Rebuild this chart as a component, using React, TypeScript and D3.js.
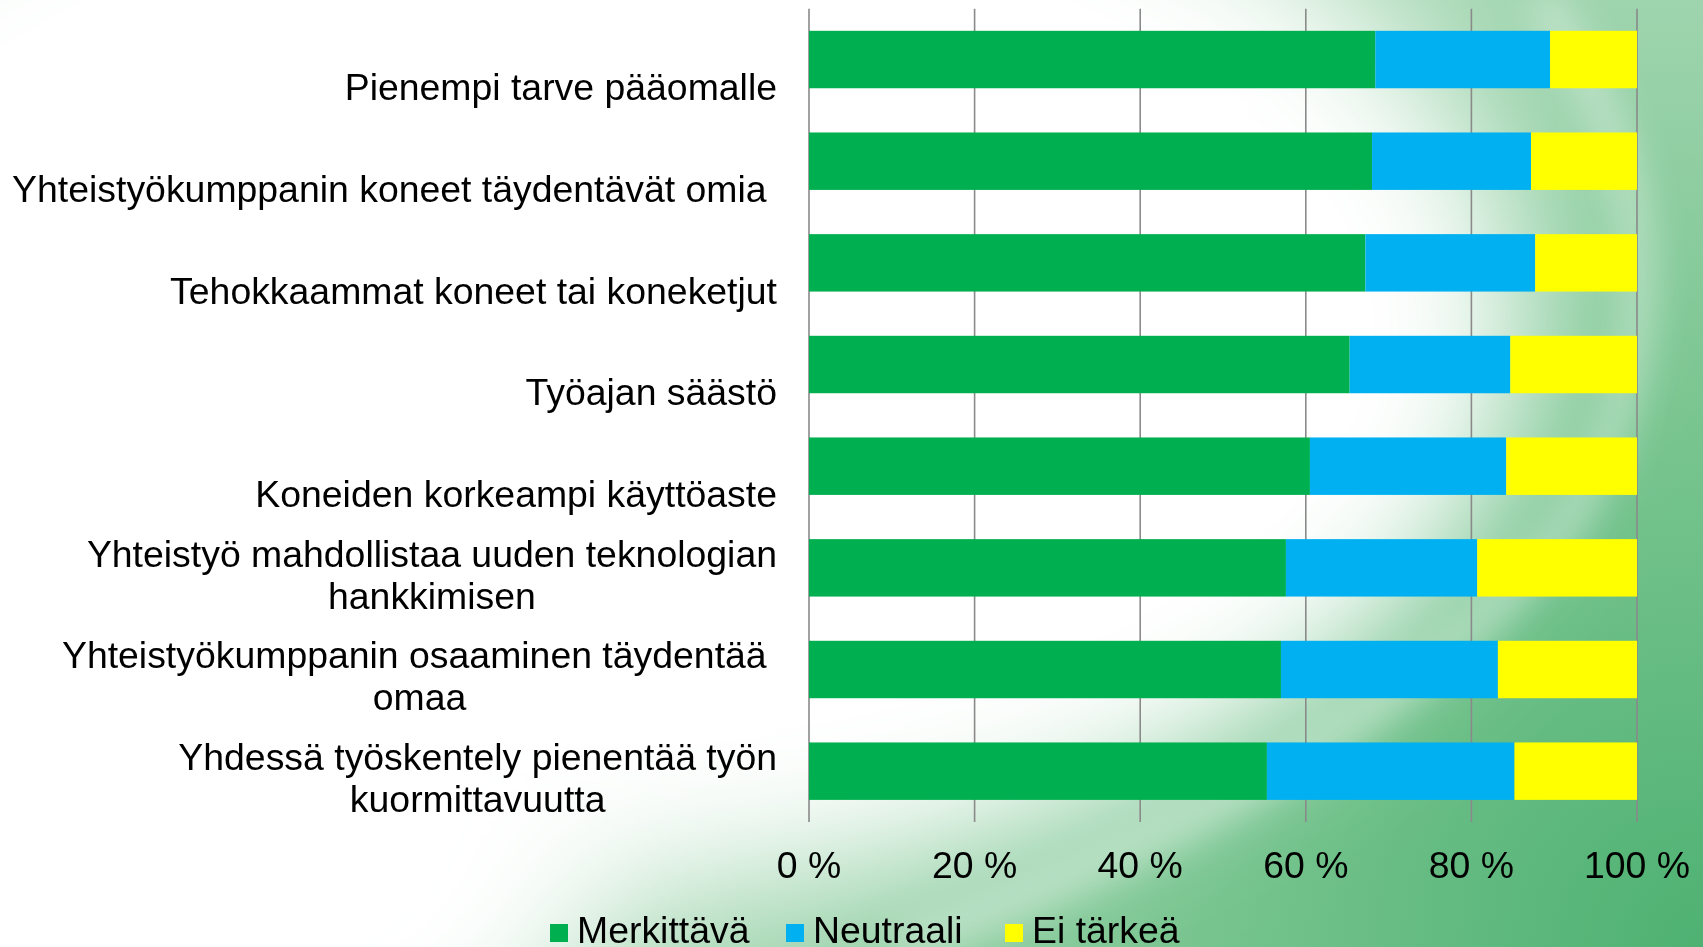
import React, { useRef, useEffect } from "react";
import { select, scaleLinear, scaleBand, stack } from "d3";

// category labels, one entry per line of text
const categories = [
  ["Pienempi tarve pääomalle"],
  ["Yhteistyökumppanin koneet täydentävät omia\u00A0"],
  ["Tehokkaammat koneet tai koneketjut"],
  ["Työajan säästö"],
  ["Koneiden korkeampi käyttöaste"],
  ["Yhteistyö mahdollistaa uuden teknologian", "hankkimisen"],
  ["Yhteistyökumppanin osaaminen täydentää\u00A0", "omaa"],
  ["Yhdessä työskentely pienentää työn", "kuormittavuutta"],
];

const merkittava = [68.4, 68.0, 67.2, 65.3, 60.5, 57.6, 57.0, 55.3];
const neutraali = [21.1, 19.2, 20.5, 19.4, 23.7, 23.1, 26.2, 29.9];
const eiTarkea = [10.5, 12.8, 12.3, 15.3, 15.8, 19.3, 16.8, 14.8];

const seriesNames = ["Merkittävä", "Neutraali", "Ei tärkeä"];
const seriesColors = ["#00B050", "#00B0F0", "#FFFF00"];
const tickValues = [0, 20, 40, 60, 80, 100];

const W = 1703;
const H = 947;
const FONT = "'Liberation Sans', Arial, sans-serif";
const FS = 37.4;

const App = () => {
  const svgRef = useRef<SVGSVGElement>(null);

  useEffect(() => {
    const svg = select(svgRef.current);
    svg.selectAll("*").remove();

    // background: green towards the bottom right, a big soft white area on the left
    const defs = svg.append("defs");
    const rad = defs
      .append("radialGradient")
      .attr("id", "bgRad")
      .attr("gradientUnits", "userSpaceOnUse")
      .attr("cx", W)
      .attr("cy", H)
      .attr("r", 1500);
    rad.append("stop").attr("offset", "0").attr("stop-color", "#4eb172");
    rad.append("stop").attr("offset", "0.35").attr("stop-color", "#79c590");
    rad.append("stop").attr("offset", "0.7").attr("stop-color", "#a8d8b5");
    rad.append("stop").attr("offset", "1").attr("stop-color", "#d8eedf");

    const blur = (id: string, sd: number) =>
      defs
        .append("filter")
        .attr("id", id)
        .attr("x", "-50%")
        .attr("y", "-50%")
        .attr("width", "200%")
        .attr("height", "200%")
        .append("feGaussianBlur")
        .attr("stdDeviation", sd);
    blur("blurBig", 70);
    blur("blurSmall", 16);

    svg.append("rect").attr("width", W).attr("height", H).attr("fill", "url(#bgRad)");
    svg
      .append("ellipse")
      .attr("cx", 600)
      .attr("cy", 330)
      .attr("rx", 930)
      .attr("ry", 560)
      .attr("fill", "#ffffff")
      .attr("filter", "url(#blurBig)");
    svg
      .append("ellipse")
      .attr("cx", 150)
      .attr("cy", 850)
      .attr("rx", 450)
      .attr("ry", 300)
      .attr("fill", "#ffffff")
      .attr("filter", "url(#blurBig)");
    // faint swirl streak on the right
    svg
      .append("path")
      .attr("d", "M 1540 0 Q 1720 260 1570 520 Q 1400 760 900 947")
      .attr("fill", "none")
      .attr("stroke", "#ffffff")
      .attr("stroke-opacity", 0.3)
      .attr("stroke-width", 40)
      .attr("filter", "url(#blurSmall)");

    // scales
    const xScale = scaleLinear().domain([0, 100]).range([809, 1637]);
    const yScale = scaleBand<number>()
      .domain(categories.map((d, i) => i))
      .range([8.7, 822])
      .paddingInner(0.435)
      .paddingOuter(0.2175);

    // gridlines
    svg
      .append("g")
      .selectAll("line")
      .data(tickValues)
      .join("line")
      .attr("x1", (d) => xScale(d))
      .attr("x2", (d) => xScale(d))
      .attr("y1", 8.7)
      .attr("y2", 822)
      .attr("stroke", "#8a8a8a")
      .attr("stroke-width", 1.6);

    // stacked bars
    const rows = categories.map((c, i) => ({
      idx: i,
      a: merkittava[i],
      b: neutraali[i],
      c: eiTarkea[i],
    }));
    const stacked = stack<any>().keys(["a", "b", "c"])(rows);

    svg
      .append("g")
      .selectAll("g")
      .data(stacked)
      .join("g")
      .attr("fill", (d, i) => seriesColors[i])
      .selectAll("rect")
      .data((d) => d)
      .join("rect")
      .attr("x", (d) => xScale(d[0]))
      .attr("y", (d) => yScale(d.data.idx) as number)
      .attr("width", (d) => xScale(d[1]) - xScale(d[0]))
      .attr("height", yScale.bandwidth());

    // category labels: last line sits below the bar centre, lines centred within the block
    const labelRight = 777;
    const lineGap = 42;
    const labels = svg
      .append("g")
      .attr("font-family", FONT)
      .attr("font-size", FS)
      .attr("fill", "#000");
    categories.forEach((lines, i) => {
      const cy = (yScale(i) as number) + yScale.bandwidth() / 2 + 31;
      const t = labels
        .append("text")
        .attr("text-anchor", "middle")
        .style("white-space", "pre");
      lines.forEach((ln, j) => {
        t.append("tspan")
          .attr("y", cy - (lines.length - 1 - j) * lineGap)
          .attr("dominant-baseline", "middle")
          .text(ln);
      });
      let maxW = 0;
      t.selectAll<SVGTSpanElement, unknown>("tspan").each(function () {
        maxW = Math.max(maxW, this.getComputedTextLength());
      });
      t.selectAll("tspan").attr("x", labelRight - maxW / 2);
    });

    // x tick labels
    svg
      .append("g")
      .selectAll("text")
      .data(tickValues)
      .join("text")
      .attr("x", (d) => xScale(d))
      .attr("y", 868)
      .attr("text-anchor", "middle")
      .attr("dominant-baseline", "middle")
      .attr("font-family", FONT)
      .attr("font-size", FS)
      .text((d) => `${d} %`);

    // legend
    const legendX = [550, 786, 1005];
    const lg = svg
      .append("g")
      .selectAll("g")
      .data(seriesNames)
      .join("g")
      .attr("transform", (d, i) => `translate(${legendX[i]},933)`);
    lg.append("rect")
      .attr("x", 0)
      .attr("y", -9)
      .attr("width", 18)
      .attr("height", 18)
      .attr("fill", (d, i) => seriesColors[i]);
    lg.append("text")
      .attr("x", 27)
      .attr("y", 0)
      .attr("dominant-baseline", "middle")
      .attr("font-family", FONT)
      .attr("font-size", FS)
      .text((d) => d);
  }, []);

  return (
    <svg
      ref={svgRef}
      width={W}
      height={H}
      style={{ position: "fixed", left: 0, top: 0, display: "block" }}
    />
  );
};

export default App;
